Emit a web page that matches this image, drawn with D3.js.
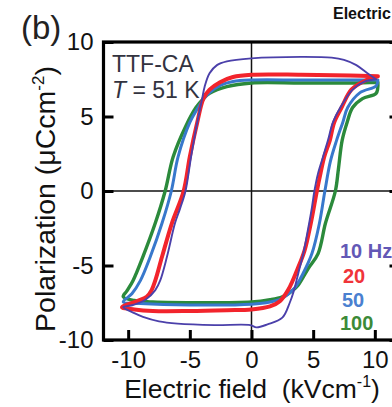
<!DOCTYPE html>
<html>
<head>
<meta charset="utf-8">
<script src="https://cdn.jsdelivr.net/npm/d3@7"></script>
<style>
  html, body { margin: 0; padding: 0; background: #fff; }
  svg { display: block; }
  text { font-family: "Liberation Sans", Arial, sans-serif; }
</style>
</head>
<body>
<svg id="chart" width="392" height="407"></svg>
<script>
// P–E hysteresis loops of TTF-CA at 51 K for four drive frequencies.
// Each loop starts at the positive field tip, runs along the upper branch
// to the negative tip, then back along the lower branch.

const freqLabels = ["10 Hz", "20", "50", "100"];
const freqColors = ["#4b40aa", "#f2242c", "#3878cc", "#2b8a3b"];
const labelColors = ["#6358b6", "#f0343a", "#4a80d0", "#3c8a38"];

const field10 = [10.1, 9.4, 8.5, 7.5, 6.5, 4.0, 0.0, -2.0, -2.8, -3.4, -3.8, -4.0, -4.4, -4.9, -5.35, -5.8, -6.2, -6.85, -7.4, -7.8, -8.6, -9.6, -10.4, -9.5, -8.8, -7.5, -6.0, -3.0, -0.1, 0.4, 1.3, 2.5, 3.1, 3.4, 3.8, 4.2, 4.6, 4.9, 5.1, 5.4, 5.8, 6.2, 6.6, 7.2, 8.2, 9.2, 10.1];
const pol10   = [7.5, 7.9, 8.45, 8.8, 8.95, 9.0, 8.9, 8.7, 8.45, 7.9, 7.0, 6.2, 4.6, 2.3, 0.0, -1.2, -2.15, -4.4, -6.0, -6.65, -7.3, -7.65, -7.8, -8.2, -8.45, -8.75, -8.9, -9.0, -9.0, -9.15, -8.95, -8.5, -7.5, -6.8, -5.5, -4.2, -2.5, -1.1, 0.0, 1.2, 2.3, 3.4, 4.6, 5.6, 6.8, 7.35, 7.5];

const field20 = [10.25, 8.0, 4.0, 0.0, -1.5, -2.55, -3.4, -3.9, -4.4, -5.0, -5.5, -6.45, -7.25, -7.8, -8.1, -8.5, -9.3, -10.5, -9.5, -8.0, -5.0, -2.0, 0.0, 1.5, 2.3, 3.0, 3.7, 4.3, 4.8, 5.3, 5.6, 5.9, 6.35, 6.7, 7.3, 8.1, 9.2, 10.25];
const pol20   = [7.7, 7.75, 7.8, 7.8, 7.65, 7.3, 6.8, 6.2, 4.6, 2.3, 0.0, -2.15, -4.4, -6.0, -6.65, -7.1, -7.4, -7.8, -7.95, -8.05, -8.05, -8.0, -7.95, -7.75, -7.4, -6.6, -5.3, -4.0, -2.2, 0.0, 1.2, 2.3, 3.4, 4.6, 5.6, 6.8, 7.4, 7.7];

const field50 = [10.25, 8.0, 4.0, 0.0, -1.5, -2.5, -3.4, -3.9, -4.4, -5.0, -5.95, -6.5, -7.25, -8.2, -9.0, -9.7, -10.4, -9.0, -5.0, 0.0, 1.5, 2.5, 3.5, 4.2, 4.9, 5.5, 5.95, 6.4, 6.9, 7.4, 7.8, 8.8, 10.1, 10.25];
const pol50   = [7.45, 7.45, 7.45, 7.45, 7.35, 7.1, 6.6, 6.15, 5.5, 4.6, 2.3, 0.0, -2.15, -4.4, -6.0, -6.9, -7.45, -7.55, -7.65, -7.6, -7.45, -7.2, -6.5, -5.5, -4.2, -2.2, 0.0, 2.0, 3.4, 4.6, 5.6, 6.6, 7.05, 7.45];

const field100 = [10.25, 8.0, 4.0, 0.0, -2.0, -3.4, -3.9, -4.5, -5.3, -6.35, -7.0, -7.8, -8.8, -9.6, -10.1, -10.4, -9.5, -8.0, 0.0, 1.5, 2.5, 3.3, 3.8, 4.6, 5.4, 6.0, 6.8, 7.05, 7.35, 7.75, 8.2, 9.0, 10.1, 10.25];
const pol100   = [7.3, 7.25, 7.25, 7.25, 7.0, 6.55, 6.2, 5.6, 4.4, 2.3, 0.0, -2.15, -4.4, -6.0, -6.7, -7.1, -7.35, -7.45, -7.45, -7.3, -7.1, -6.7, -6.3, -5.2, -4.2, -2.15, 0.0, 1.5, 3.4, 4.6, 5.6, 6.2, 6.55, 7.3];

const xTicks = [-10, -5, 0, 5, 10];
const yTicks = [-10, -5, 0, 5, 10];

const loops = [
  { field: field10, pol: pol10, width: 1.9 },
  { field: field20, pol: pol20, width: 4.0 },
  { field: field50, pol: pol50, width: 3.0 },
  { field: field100, pol: pol100, width: 3.4 }
];

const svg = d3.select("#chart");
const plotLeft = 103.5, plotRight = 399.5, plotTop = 42, plotBottom = 340;

const x = d3.scaleLinear().domain([-12, 12]).range([plotLeft, plotRight]);
const y = d3.scaleLinear().domain([-10, 10]).range([plotBottom, plotTop]);

// zero lines
svg.append("line")
  .attr("x1", x(0)).attr("x2", x(0)).attr("y1", plotTop).attr("y2", plotBottom)
  .attr("stroke", "#111").attr("stroke-width", 1.5);
svg.append("line")
  .attr("x1", plotLeft).attr("x2", plotRight).attr("y1", y(0)).attr("y2", y(0))
  .attr("stroke", "#111").attr("stroke-width", 1.5);

// loops
svg.append("clipPath").attr("id", "plot-clip")
  .append("rect").attr("x", plotLeft).attr("y", plotTop)
  .attr("width", plotRight - plotLeft).attr("height", plotBottom - plotTop);

const line = d3.line()
  .x(d => x(d[0])).y(d => y(d[1]))
  .curve(d3.curveCatmullRom.alpha(0.5));

const drawOrder = [3, 2, 1, 0];
const gLoops = svg.append("g").attr("clip-path", "url(#plot-clip)");
drawOrder.forEach(i => {
  const s = loops[i];
  const pts = s.field.map((e, k) => [e, s.pol[k]]);
  gLoops.append("path")
    .attr("d", line(pts))
    .attr("fill", "none")
    .attr("stroke", freqColors[i])
    .attr("stroke-width", s.width)
    .attr("stroke-linejoin", "round")
    .attr("stroke-linecap", "round");
});

// axes with inward ticks
const fmt = d => String(d);
const yAxis = svg.append("g").attr("transform", `translate(${plotLeft},0)`)
  .call(d3.axisLeft(y).tickValues(yTicks).tickFormat(fmt).tickSize(-10).tickPadding(10));
const yAxisR = svg.append("g").attr("transform", `translate(${plotRight},0)`)
  .call(d3.axisRight(y).tickValues(yTicks).tickFormat("").tickSize(-10));
const xAxis = svg.append("g").attr("transform", `translate(0,${plotBottom})`)
  .call(d3.axisBottom(x).tickValues(xTicks).tickFormat(fmt).tickSize(-10).tickPadding(11));

[yAxis, yAxisR, xAxis].forEach(g => {
  g.select(".domain").remove();
  g.selectAll(".tick line").attr("stroke", "#000").attr("stroke-width", 3);
  g.selectAll(".tick text")
    .attr("fill", "#111")
    .style("font-family", "'Liberation Sans', Arial, sans-serif")
    .style("font-size", "24px");
});

// frame
svg.append("rect")
  .attr("x", plotLeft).attr("y", plotTop)
  .attr("width", plotRight - plotLeft).attr("height", plotBottom - plotTop)
  .attr("fill", "none").attr("stroke", "#000").attr("stroke-width", 3.2);

// axis titles
const xt = svg.append("text")
  .attr("x", 252).attr("y", 398).attr("text-anchor", "middle")
  .attr("fill", "#111").style("font-size", "26.5px").style("white-space", "pre");
xt.append("tspan").text("Electric field  (kVcm");
xt.append("tspan").attr("dy", -11).style("font-size", "16px").text("-1");
xt.append("tspan").attr("dy", 11).text(")");

const yt = svg.append("text")
  .attr("transform", "translate(55,199) rotate(-90)")
  .attr("text-anchor", "middle")
  .attr("fill", "#111").style("font-size", "28.5px");
yt.append("tspan").text("Polarization (μCcm");
yt.append("tspan").attr("dy", -11).style("font-size", "17px").text("-2");
yt.append("tspan").attr("dy", 11).text(")");

// panel letter and neighbouring panel title
svg.append("text").attr("x", 21).attr("y", 39)
  .attr("fill", "#222").style("font-size", "33px").text("(b)");
svg.append("text").attr("x", 333).attr("y", 19)
  .attr("fill", "#111").style("font-size", "16px").style("font-weight", "bold")
  .text("Electric field");

// sample annotation
svg.append("text").attr("x", 112).attr("y", 72)
  .attr("fill", "#33333f").style("font-size", "23px").text("TTF-CA");
const tl = svg.append("text").attr("x", 112).attr("y", 98)
  .attr("fill", "#33333f").style("font-size", "23px");
tl.append("tspan").style("font-style", "italic").text("T");
tl.append("tspan").text(" = 51 K");

// frequency legend
const legendX = [340, 343, 342, 340];
const legendY = [258, 283, 307, 330];
freqLabels.forEach((t, i) => {
  svg.append("text")
    .attr("x", legendX[i]).attr("y", legendY[i])
    .attr("fill", labelColors[i])
    .style("font-size", "20px").style("font-weight", "bold")
    .text(t);
});
</script>
</body>
</html>
